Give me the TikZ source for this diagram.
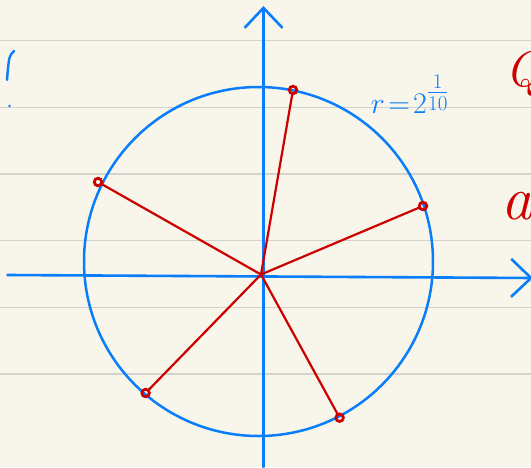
\RequirePackage{fix-cm}
\documentclass[tikz,border=0pt]{standalone}
\usepackage{amsmath,amssymb}
\usepackage{tikz}
\usetikzlibrary{arrows.meta}
\usepackage{xcolor}
\definecolor{paper}{RGB}{248,245,234}
\definecolor{ruling}{RGB}{210,210,207}
\definecolor{pen}{RGB}{10,125,250}
\definecolor{ink}{RGB}{205,0,0}

\begin{document}
\begin{tikzpicture}[x=1pt,y=-1pt,>={Straight Barb[length=20pt,width=38pt]},
  axis/.style={pen,line width=2.6pt,line cap=round},
  ray/.style={ink,line width=2.2pt},
  dot/.style={draw=ink,line width=2.8pt,circle,inner sep=0pt,minimum size=7.5pt,outer sep=0pt},
  scrawl/.style={text=ink,font=\fontsize{50}{52}\selectfont\itshape,anchor=west,inner sep=0pt}]
\useasboundingbox (0,0) rectangle (531,467);
\clip (0,0) rectangle (531,467);
\fill[paper] (0,0) rectangle (531,467);
\foreach \y in {40.6,107.3,174,240.7,307.4,374} \draw[ruling,line width=1.5pt] (0,\y) -- (531,\y);
\coordinate (xs) at (7.5,275);
\coordinate (xe) at (533,278);
\coordinate (ys) at (263.5,467);
\coordinate (ye) at (263.5,6);
\draw[axis,->] (xs) -- (xe);
\draw[axis,->] (ys) -- (ye);
\node[circle,draw=pen,line width=2.5pt,minimum size=349pt,inner sep=0pt] (unit) at (258.5,261.5) {};
\coordinate (O) at (261,274.5);
\node[dot] (z1) at (293,90) {};
\node[dot] (z2) at (423,206) {};
\node[dot] (z3) at (98,182) {};
\node[dot] (z4) at (145.6,393) {};
\node[dot] (z5) at (339.6,417.7) {};
\foreach \k in {1,...,5} \draw[ray] (O) -- (z\k);
\node[text=pen,font=\fontsize{30}{32}\selectfont,inner sep=0pt] (rad) at (410,94) {$r\!=\!2^{\textstyle\frac{1}{10}}$};
\node[scrawl] (q) at (505,74) {Q};
\node[scrawl,font=\fontsize{62}{64}\selectfont\itshape] (a) at (501,206) {a};
\draw[pen,line width=2.4pt,line cap=round] (14,51) .. controls (9,56) .. (7,80);
\fill[pen] (9.5,106) circle (1.4pt);
\end{tikzpicture}
\end{document}
